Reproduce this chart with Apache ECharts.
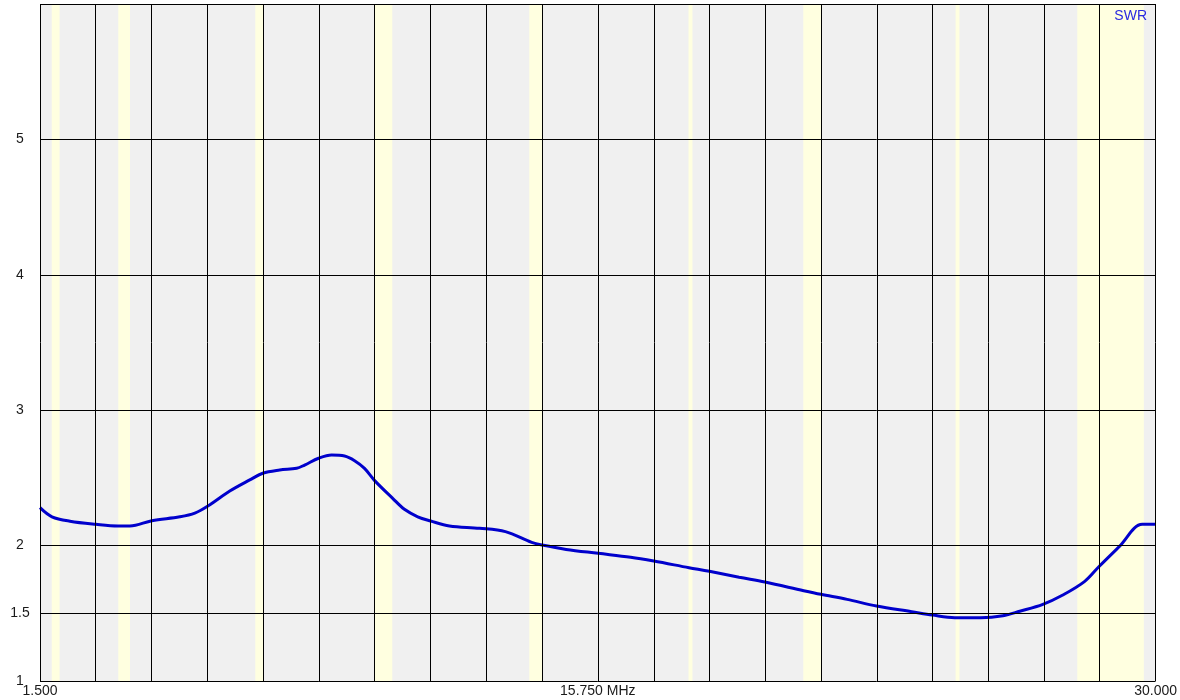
<!DOCTYPE html>
<html>
<head>
<meta charset="utf-8">
<script src="https://cdn.jsdelivr.net/npm/echarts@6/dist/echarts.min.js"></script>
<style>
html,body{margin:0;padding:0;background:#fff;}
#chart{width:1180px;height:700px;}
</style>
</head>
<body>
<div id="chart"></div>
<script>
// Frequency (MHz) and SWR values
const freqs = [1.5, 1.806, 2.265, 2.929, 3.49, 3.796, 4.358, 5.072, 5.455, 5.787, 6.348, 6.858, 7.19, 7.624, 8.058, 8.26, 8.618, 8.95, 9.28, 9.537, 9.79, 10.05, 10.51, 10.81, 11.15, 11.48, 11.96, 12.73, 13.39, 14.06, 14.33, 14.94, 15.76, 16.59, 17.18, 18.08, 18.6, 19.36, 20.02, 21.01, 21.45, 22.12, 22.87, 23.77, 24.3, 24.87, 25.53, 26.1, 26.53, 27.12, 27.63, 28.19, 28.55, 29.07, 29.66, 30.0];
const swr   = [2.280, 2.213, 2.180, 2.157, 2.145, 2.145, 2.184, 2.213, 2.240, 2.292, 2.403, 2.485, 2.534, 2.558, 2.571, 2.595, 2.645, 2.669, 2.662, 2.627, 2.570, 2.480, 2.349, 2.268, 2.213, 2.182, 2.145, 2.128, 2.103, 2.024, 2.004, 1.972, 1.943, 1.914, 1.886, 1.837, 1.810, 1.766, 1.731, 1.667, 1.640, 1.603, 1.554, 1.512, 1.487, 1.468, 1.468, 1.482, 1.515, 1.566, 1.635, 1.736, 1.844, 1.992, 2.157, 2.157];

// Amateur bands shaded in yellow (MHz)
const bands = [[1.8, 2.0], [3.5, 3.8], [7.0, 7.2], [10.05, 10.5], [14.0, 14.35], [18.068, 18.168], [21.0, 21.45], [24.89, 24.99], [28.0, 29.7]];

// Grid lines
const xGrid = [1.5, 2.925, 4.35, 5.775, 7.2, 8.625, 10.05, 11.475, 12.9, 14.325, 15.75, 17.175, 18.6, 20.025, 21.45, 22.875, 24.3, 25.725, 27.15, 28.575, 30.0];
const yGrid = [1, 1.5, 2, 3, 4, 5, 6];

// Tick labels
const xLabelValues = [1.5, 15.75, 30];
const xLabelTexts = {1.5: '1.500', 15.75: '15.750 MHz', 30: '30.000'};
const yLabelValues = [1, 1.5, 2, 3, 4, 5];

const data = freqs.map((f, i) => [f, swr[i]]);

const chart = echarts.init(document.getElementById('chart'));
chart.setOption({
  animation: false,
  backgroundColor: '#ffffff',
  title: {
    text: 'SWR', right: 33, top: 9, padding: 0,
    textStyle: {color: '#2a2ae0', fontSize: 14, fontWeight: 'normal', fontFamily: 'Liberation Sans, Arial, sans-serif'}
  },
  grid: {
    left: 40, top: 4, width: 1117, height: 677,
    show: true, backgroundColor: '#f0f0f0', borderWidth: 0
  },
  xAxis: {
    type: 'value', min: 1.5, max: 30,
    splitLine: {show: false},
    axisTick: {show: false},
    axisLine: {show: false},
    axisLabel: {
      customValues: xLabelValues,
      formatter: v => xLabelTexts[v] !== undefined ? xLabelTexts[v] : '',
      margin: 3,
      color: '#1a1a1a',
      fontFamily: 'Liberation Sans, Arial, sans-serif',
      fontSize: 14
    }
  },
  yAxis: {
    type: 'value', min: 1, max: 6,
    splitLine: {show: false},
    axisTick: {show: false},
    axisLine: {show: false},
    axisLabel: {
      customValues: yLabelValues,
      align: 'center',
      margin: 20,
      color: '#1a1a1a',
      fontFamily: 'Liberation Sans, Arial, sans-serif',
      fontSize: 14
    }
  },
  series: [
    {
      type: 'line', data: [], z: 1, silent: true,
      markArea: {
        silent: true,
        itemStyle: {color: '#ffffe0'},
        data: bands.map(b => [{xAxis: b[0]}, {xAxis: b[1]}])
      }
    },
    {
      type: 'line', data: [], z: 2, silent: true, clip: false,
      markLine: {
        silent: true, symbol: 'none',
        label: {show: false},
        lineStyle: {color: '#000000', width: 1, type: 'solid'},
        data: xGrid.map(v => ({xAxis: v})).concat(yGrid.map(v => ({yAxis: v})))
      }
    },
    {
      type: 'line', data: data, z: 3,
      showSymbol: false, smooth: 0.35,
      lineStyle: {color: '#0000cc', width: 3},
      itemStyle: {color: '#0000cc'}
    }
  ]
});
</script>
</body>
</html>
